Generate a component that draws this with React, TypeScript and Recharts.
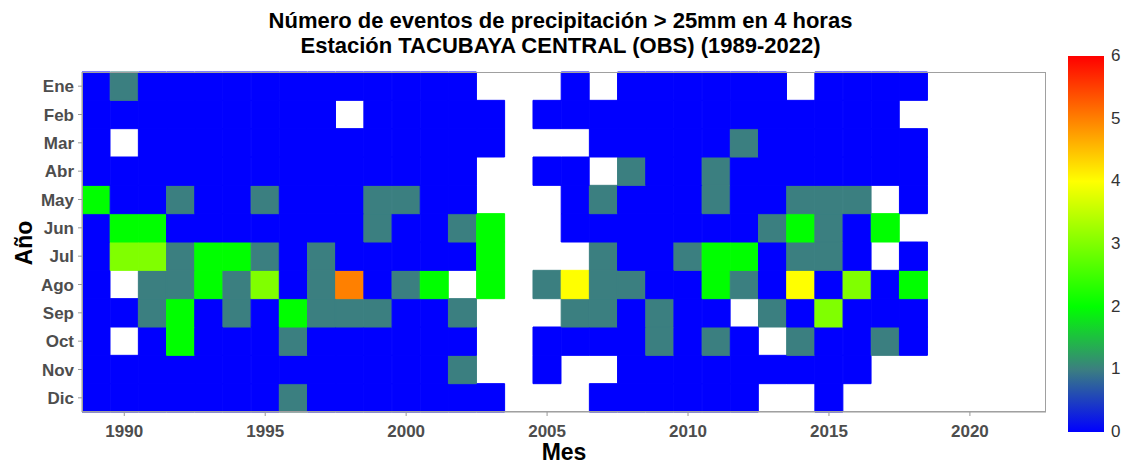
import { BarChart, Bar, Cell, XAxis, YAxis } from "recharts";

const N = null;

const years = [
  1989, 1990, 1991, 1992, 1993, 1994, 1995, 1996, 1997, 1998,
  1999, 2000, 2001, 2002, 2003, 2004, 2005, 2006, 2007, 2008,
  2009, 2010, 2011, 2012, 2013, 2014, 2015, 2016, 2017, 2018,
];

const months = ["Ene", "Feb", "Mar", "Abr", "May", "Jun", "Jul", "Ago", "Sep", "Oct", "Nov", "Dic"];

// eventos por mes (null = sin dato)
const ene = [0,1,0,0,0,0,0,0,0,0, 0,0,0,0,N,N,N,0,N,0, 0,0,0,0,0,N,0,0,0,0];
const feb = [0,0,0,0,0,0,0,0,0,N, 0,0,0,0,0,N,0,0,0,0, 0,0,0,0,0,0,0,0,0,N];
const mar = [0,N,0,0,0,0,0,0,0,0, 0,0,0,0,0,N,N,N,0,0, 0,0,0,1,0,0,0,0,0,0];
const abr = [0,0,0,0,0,0,0,0,0,0, 0,0,0,0,N,N,0,0,N,1, 0,0,1,0,0,0,0,0,0,0];
const may = [2,0,0,1,0,0,1,0,0,0, 1,1,0,0,N,N,N,0,1,0, 0,0,1,0,0,1,1,1,N,0];
const jun = [0,2,2,0,0,0,0,0,0,0, 1,0,0,1,2,N,N,0,0,0, 0,0,0,0,1,2,1,0,2,N];
const jul = [0,3,3,1,2,2,1,0,1,0, 0,0,0,0,2,N,N,N,1,0, 0,1,2,2,0,1,1,0,N,0];
const ago = [0,N,1,1,2,1,3,0,1,5, 0,1,2,N,2,N,1,4,1,1, 0,0,2,1,0,4,0,3,0,2];
const sep = [0,0,1,2,0,1,0,2,1,1, 1,0,0,1,N,N,N,1,1,0, 1,0,0,N,1,0,3,0,0,0];
const oct = [0,N,0,2,0,0,0,1,0,0, 0,0,0,0,N,N,0,0,0,0, 1,0,1,0,N,1,0,0,1,0];
const nov = [0,0,0,0,0,0,0,0,0,0, 0,0,0,1,N,N,0,N,N,0, 0,0,0,0,0,0,0,0,N,N];
const dic = [0,0,0,0,0,0,0,1,0,0, 0,0,0,0,0,N,N,N,0,0, 0,0,0,0,N,N,0,N,N,N];

const monthValues = [ene, feb, mar, abr, may, jun, jul, ago, sep, oct, nov, dic];

const xTicks = [1990, 1995, 2000, 2005, 2010, 2015, 2020];
const legendTicks = [0, 1, 2, 3, 4, 5, 6];

const stops: [number, string][] = [
  [0, "#0000FF"],
  [1, "#3B7F80"],
  [2, "#00FF00"],
  [4, "#FFFF00"],
  [6, "#FF0000"],
];

function hex(c: string) {
  return [1, 3, 5].map((i) => parseInt(c.slice(i, i + 2), 16));
}

function colorOf(v: number | null) {
  if (v === null) return "none";
  for (let i = 0; i < stops.length - 1; i++) {
    const [a, ca] = stops[i];
    const [b, cb] = stops[i + 1];
    if (v >= a && v <= b) {
      const t = (v - a) / (b - a);
      const x = hex(ca);
      const y = hex(cb);
      const m = x.map((c, k) => Math.round(c + (y[k] - c) * t));
      return `rgb(${m[0]},${m[1]},${m[2]})`;
    }
  }
  return "#FF0000";
}

const data = years.map((year) => {
  const row: Record<string, number> = { year };
  months.forEach((m) => (row[m] = 1));
  return row;
});

const W = 1125;
const H = 464;
const M = { top: 72, right: 79, left: 0, bottom: 0 };
const Y_W = 82;
const X_H = 52;

const font = "'Liberation Sans', Arial, sans-serif";
const tickStyle = { fill: "#4D4D4D", fontSize: 17, fontWeight: 700, fontFamily: font };

export default function App() {
  const stackOrder = [...months].reverse();
  const plotH = H - M.top - X_H;
  const plotW = W - M.right - Y_W;
  const barTop = 56;
  const barBottom = 432;

  return (
    <div style={{ position: "absolute", left: 0, top: 0, width: W, height: H, background: "#fff", fontFamily: font }}>
      <div style={{ position: "absolute", left: 0, width: W - 4, top: 8, textAlign: "center", fontWeight: 700, fontSize: 22, lineHeight: "25px", color: "#000" }}>
        Número de eventos de precipitación &gt; 25mm en 4 horas
        <br />
        Estación TACUBAYA CENTRAL (OBS) (1989-2022)
      </div>

      <BarChart width={W} height={H} data={data} margin={M} barCategoryGap={0} barGap={0}>
        <XAxis
          dataKey="year"
          type="number"
          domain={[1988.5, 2022.7]}
          allowDataOverflow
          ticks={xTicks}
          height={X_H}
          tick={tickStyle}
          tickSize={4}
          tickMargin={9}
          stroke="#9A9A9A"
        />
        <YAxis
          type="number"
          domain={[0, 12]}
          ticks={[0.5, 1.5, 2.5, 3.5, 4.5, 5.5, 6.5, 7.5, 8.5, 9.5, 10.5, 11.5]}
          tickFormatter={(v: number) => months[11 - Math.floor(v)]}
          width={Y_W}
          tick={tickStyle}
          tickSize={4}
          tickMargin={4}
          stroke="#9A9A9A"
        />
        {stackOrder.map((m) => {
          const vals = monthValues[months.indexOf(m)];
          return (
            <Bar key={m} dataKey={m} stackId="a" isAnimationActive={false}>
              {vals.map((v, i) => (
                <Cell key={i} fill={colorOf(v)} stroke={colorOf(v)} strokeWidth={1} />
              ))}
            </Bar>
          );
        })}
      </BarChart>

      <div style={{ position: "absolute", left: Y_W, top: M.top, width: plotW, height: plotH, border: "1px solid #A0A0A0", boxSizing: "border-box", pointerEvents: "none" }} />

      <div style={{ position: "absolute", left: 2, top: 243, transform: "translate(0,-50%) rotate(-90deg)", fontWeight: 700, fontSize: 23, color: "#000" }}>
        Año
      </div>
      <div style={{ position: "absolute", left: 0, width: Y_W * 2 + plotW, top: 439, textAlign: "center", fontWeight: 700, fontSize: 23, color: "#000" }}>
        Mes
      </div>

      <div
        style={{
          position: "absolute",
          left: 1068,
          top: barTop,
          width: 36,
          height: barBottom - barTop,
          background: `linear-gradient(to top, ${stops.map(([v, c]) => `${c} ${(v / 6) * 100}%`).join(", ")})`,
        }}
      />
      {legendTicks.map((t) => (
        <div
          key={t}
          style={{
            position: "absolute",
            left: 1111,
            top: barBottom - ((barBottom - barTop) * t) / 6 - 10,
            fontSize: 17,
            color: "#333",
            lineHeight: "20px",
          }}
        >
          {t}
        </div>
      ))}
    </div>
  );
}
